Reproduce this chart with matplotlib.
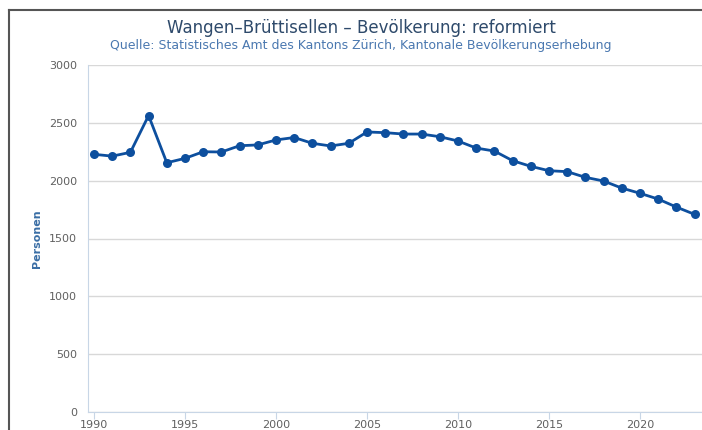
import matplotlib
matplotlib.use("Agg")
import matplotlib.pyplot as plt
from matplotlib.lines import Line2D

years = list(range(1990, 2024))
values = [2228, 2212, 2245, 2563, 2155, 2193, 2250, 2248, 2302, 2309,
          2352, 2373, 2323, 2300, 2323, 2421, 2415, 2403, 2403, 2380,
          2343, 2282, 2256, 2173, 2124, 2086, 2078, 2029, 1997, 1936,
          1891, 1841, 1772, 1709]
x_ticks = [1990, 1995, 2000, 2005, 2010, 2015, 2020]
y_ticks = [0, 500, 1000, 1500, 2000, 2500, 3000]

title = "Wangen\u2013Brüttisellen \u2013 Bevölkerung: reformiert"
subtitle = "Quelle: Statistisches Amt des Kantons Zürich, Kantonale Bevölkerungserhebung"

plt.rcParams['font.family'] = ['DejaVu Sans']

fig = plt.figure(figsize=(7.02, 4.30), dpi=100)
ax = fig.add_axes([88/702, 18/430, 614/702, 347/430])

ax.plot(years, values, color='#0d4f9e', lw=2.0, marker='o', ms=6.5,
        markeredgewidth=0, zorder=3, clip_on=False)

ax.set_xlim(1989.67, 2023.41)
ax.set_ylim(0, 3000)
ax.set_xticks(x_ticks)
ax.set_yticks(y_ticks)
ax.grid(axis='y', color='#d8d8d8', lw=1)
ax.set_axisbelow(True)
for s in ['top', 'right']:
    ax.spines[s].set_visible(False)
ax.spines['left'].set_color('#c8d6e6')
ax.spines['bottom'].set_color('#c8d6e6')
ax.tick_params(axis='y', length=0, pad=8, labelsize=8, labelcolor='#606060')
ax.tick_params(axis='x', length=5, color='#c8d6e6', pad=1, labelsize=8, labelcolor='#606060')
ax.set_ylabel("Personen", color='#3a6ea5', fontsize=8, fontweight='semibold', labelpad=5)

fig.text(361/702, 1 - 28/430, title, ha='center', va='center', fontsize=12, color='#2e4a6b')
fig.text(361/702, 1 - 45/430, subtitle, ha='center', va='center', fontsize=9, color='#4a78b0')

fig.add_artist(Line2D([9/702, 9/702], [0, 1 - 10/430], color='#555555', lw=1.5))
fig.add_artist(Line2D([9/702, 1], [1 - 10/430, 1 - 10/430], color='#555555', lw=1.5))

fig.savefig("out.png", dpi=100)
